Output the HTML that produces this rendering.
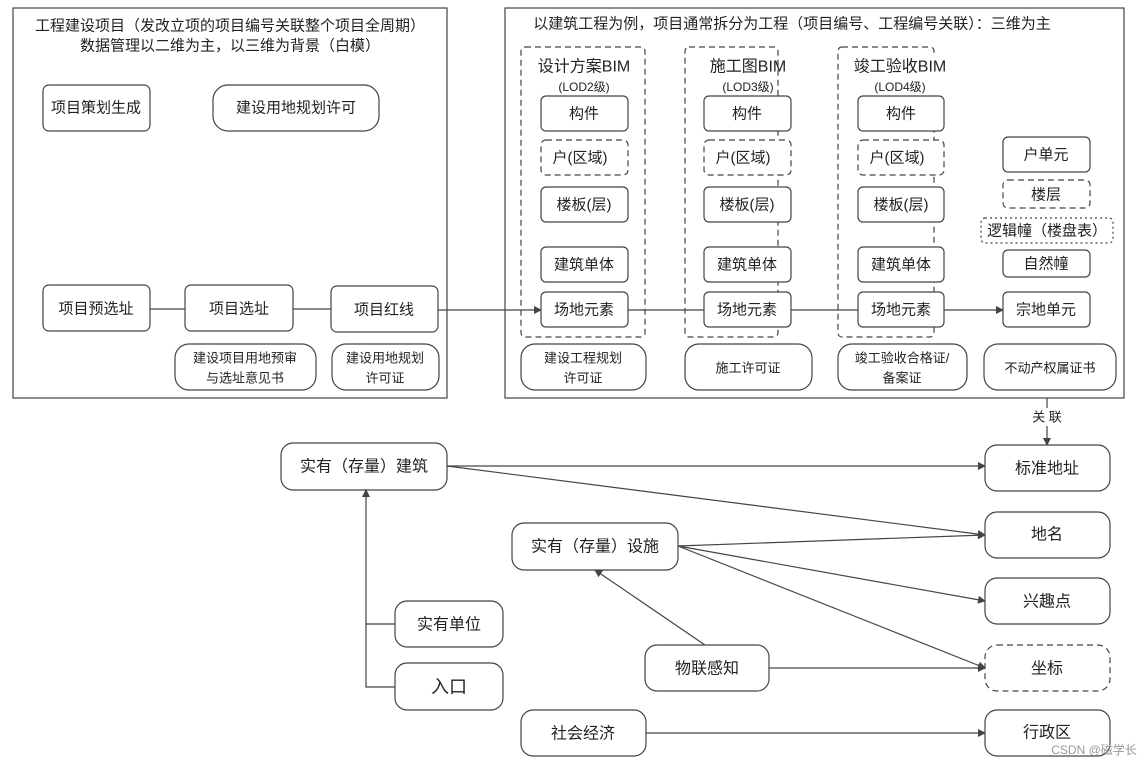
<!DOCTYPE html>
<html><head><meta charset="utf-8"><style>
html,body{margin:0;padding:0;background:#fff}
svg{display:block}
text{font-family:"Liberation Sans","Noto Sans CJK SC",sans-serif;fill:#222;text-anchor:middle;dominant-baseline:central}
.b{fill:#fff;stroke:#444;stroke-width:1.2}
.d{fill:#fff;stroke:#444;stroke-width:1.2;stroke-dasharray:6 4}
.o{fill:#fff;stroke:#444;stroke-width:1.2;stroke-dasharray:2 3}
.l{stroke:#444;stroke-width:1.2;fill:none}
</style></head><body>
<svg width="1146" height="767" viewBox="0 0 1146 767">
<defs><marker id="a" markerWidth="8" markerHeight="8" refX="7" refY="4" orient="auto" markerUnits="userSpaceOnUse"><path d="M0,0 L8,4 L0,8 z" fill="#444"/></marker></defs>
<!-- frames -->
<rect x="13" y="8" width="434" height="390" fill="none" stroke="#444" stroke-width="1.2"/>
<rect x="505" y="8" width="619" height="390" fill="none" stroke="#444" stroke-width="1.2"/>
<text x="230" y="26" font-size="15">工程建设项目（发改立项的项目编号关联整个项目全周期）</text>
<text x="230" y="46" font-size="15">数据管理以二维为主，以三维为背景（白模）</text>
<text x="792" y="24" font-size="15">以建筑工程为例，项目通常拆分为工程（项目编号、工程编号关联）：三维为主</text>
<!-- left -->
<rect class="b" x="43" y="85" width="107" height="46" rx="6"/><text x="96" y="108" font-size="15">项目策划生成</text>
<rect class="b" x="213" y="85" width="166" height="46" rx="15"/><text x="296" y="108" font-size="15">建设用地规划许可</text>
<line class="l" x1="150" y1="309" x2="185" y2="309"/>
<line class="l" x1="293" y1="309" x2="331" y2="309"/>
<rect class="b" x="43" y="285" width="107" height="46" rx="6"/><text x="96" y="309" font-size="15">项目预选址</text>
<rect class="b" x="185" y="285" width="108" height="46" rx="6"/><text x="239" y="309" font-size="15">项目选址</text>
<rect class="b" x="331" y="286" width="107" height="46" rx="6"/><text x="384" y="310" font-size="15">项目红线</text>
<rect class="b" x="175" y="344" width="141" height="46" rx="14"/><text x="245" y="358" font-size="13">建设项目用地预审</text><text x="245" y="378" font-size="13">与选址意见书</text>
<rect class="b" x="332" y="344" width="107" height="46" rx="14"/><text x="385" y="358" font-size="13">建设用地规划</text><text x="385" y="378" font-size="13">许可证</text>
<!-- main arrows -->
<line class="l" x1="438" y1="310" x2="541" y2="310" marker-end="url(#a)"/>
<line class="l" x1="628" y1="310" x2="1003" y2="310" marker-end="url(#a)"/>
<!-- groups -->
<rect class="d" x="521" y="47" width="124" height="290" rx="4" fill="none" style="fill:none"/>
<rect class="d" x="685" y="47" width="93" height="290" rx="4" style="fill:none"/>
<rect class="d" x="838" y="47" width="96" height="290" rx="4" style="fill:none"/>
<rect x="530" y="56" width="110" height="40" fill="#fff"/>
<rect x="692" y="56" width="82" height="40" fill="#fff"/>
<rect x="842" y="56" width="94" height="40" fill="#fff"/>
<text x="584" y="67" font-size="16">设计方案BIM</text><text x="584" y="87" font-size="12">(LOD2级)</text>
<text x="748" y="67" font-size="16">施工图BIM</text><text x="748" y="87" font-size="12">(LOD3级)</text>
<text x="900" y="67" font-size="16">竣工验收BIM</text><text x="900" y="87" font-size="12">(LOD4级)</text>
<g font-size="15">
<rect class="b" x="541" y="96" width="87" height="35" rx="5"/><text x="584" y="114">构件</text>
<rect class="d" x="541" y="140" width="87" height="35" rx="5"/><text x="580" y="158">户(区域)</text>
<rect class="b" x="541" y="187" width="87" height="35" rx="5"/><text x="584" y="205">楼板(层)</text>
<rect class="b" x="541" y="247" width="87" height="35" rx="5"/><text x="584" y="265">建筑单体</text>
<rect class="b" x="541" y="292" width="87" height="35" rx="5"/><text x="584" y="310">场地元素</text>
<rect class="b" x="704" y="96" width="87" height="35" rx="5"/><text x="747" y="114">构件</text>
<rect class="d" x="704" y="140" width="87" height="35" rx="5"/><text x="743" y="158">户(区域)</text>
<rect class="b" x="704" y="187" width="87" height="35" rx="5"/><text x="747" y="205">楼板(层)</text>
<rect class="b" x="704" y="247" width="87" height="35" rx="5"/><text x="747" y="265">建筑单体</text>
<rect class="b" x="704" y="292" width="87" height="35" rx="5"/><text x="747" y="310">场地元素</text>
<rect class="b" x="858" y="96" width="86" height="35" rx="5"/><text x="901" y="114">构件</text>
<rect class="d" x="858" y="140" width="86" height="35" rx="5"/><text x="897" y="158">户(区域)</text>
<rect class="b" x="858" y="187" width="86" height="35" rx="5"/><text x="901" y="205">楼板(层)</text>
<rect class="b" x="858" y="247" width="86" height="35" rx="5"/><text x="901" y="265">建筑单体</text>
<rect class="b" x="858" y="292" width="86" height="35" rx="5"/><text x="901" y="310">场地元素</text>
<rect class="b" x="1003" y="137" width="87" height="35" rx="5"/><text x="1046" y="155">户单元</text>
<rect class="d" x="1003" y="180" width="87" height="28" rx="5"/><text x="1046" y="195">楼层</text>
<rect class="o" x="981" y="218" width="132" height="25" rx="4"/><text x="1047" y="231">逻辑幢（楼盘表）</text>
<rect class="b" x="1003" y="250" width="87" height="27" rx="5"/><text x="1046" y="264">自然幢</text>
<rect class="b" x="1003" y="292" width="87" height="35" rx="5"/><text x="1046" y="310">宗地单元</text>
</g>
<g font-size="13">
<rect class="b" x="521" y="344" width="125" height="46" rx="14"/><text x="583" y="358">建设工程规划</text><text x="583" y="378">许可证</text>
<rect class="b" x="685" y="344" width="127" height="46" rx="14"/><text x="748" y="368">施工许可证</text>
<rect class="b" x="838" y="344" width="129" height="46" rx="14"/><text x="902" y="358">竣工验收合格证/</text><text x="902" y="378">备案证</text>
<rect class="b" x="984" y="344" width="132" height="46" rx="14"/><text x="1050" y="368">不动产权属证书</text>
</g>
<!-- bottom -->
<line class="l" x1="1047" y1="398" x2="1047" y2="445" marker-end="url(#a)"/>
<rect x="1030" y="408" width="34" height="18" fill="#fff"/><text x="1047" y="417" font-size="13">关 联</text>
<g class="l">
<line x1="447" y1="466" x2="985" y2="466" marker-end="url(#a)"/>
<line x1="447" y1="466" x2="985" y2="535" marker-end="url(#a)"/>
<line x1="678" y1="546" x2="985" y2="535" marker-end="url(#a)"/>
<line x1="678" y1="546" x2="985" y2="601" marker-end="url(#a)"/>
<line x1="678" y1="546" x2="985" y2="668" marker-end="url(#a)"/>
<line x1="705" y1="645" x2="595" y2="570" marker-end="url(#a)"/>
<line x1="769" y1="668" x2="985" y2="668" marker-end="url(#a)"/>
<line x1="646" y1="733" x2="985" y2="733" marker-end="url(#a)"/>
<polyline points="395,624 366,624"/>
<polyline points="395,687 366,687 366,490" marker-end="url(#a)"/>
</g>
<g font-size="16">
<rect class="b" x="281" y="443" width="166" height="47" rx="12"/><text x="364" y="467">实有（存量）建筑</text>
<rect class="b" x="512" y="523" width="166" height="47" rx="12"/><text x="595" y="547">实有（存量）设施</text>
<rect class="b" x="395" y="601" width="108" height="46" rx="12"/><text x="449" y="625">实有单位</text>
<rect class="b" x="395" y="663" width="108" height="47" rx="12"/><text x="449" y="687" font-size="18">入口</text>
<rect class="b" x="645" y="645" width="124" height="46" rx="12"/><text x="707" y="669">物联感知</text>
<rect class="b" x="521" y="710" width="125" height="46" rx="12"/><text x="583" y="734">社会经济</text>
<rect class="b" x="985" y="445" width="125" height="46" rx="12"/><text x="1047" y="469">标准地址</text>
<rect class="b" x="985" y="512" width="125" height="46" rx="12"/><text x="1047" y="535">地名</text>
<rect class="b" x="985" y="578" width="125" height="46" rx="12"/><text x="1047" y="602">兴趣点</text>
<rect class="d" x="985" y="645" width="125" height="46" rx="12"/><text x="1047" y="669">坐标</text>
<rect class="b" x="985" y="710" width="125" height="46" rx="12"/><text x="1047" y="733">行政区</text>
</g>
<text x="1094" y="750" font-size="12" style="fill:#999">CSDN @磁学长</text>
</svg>
</body></html>
